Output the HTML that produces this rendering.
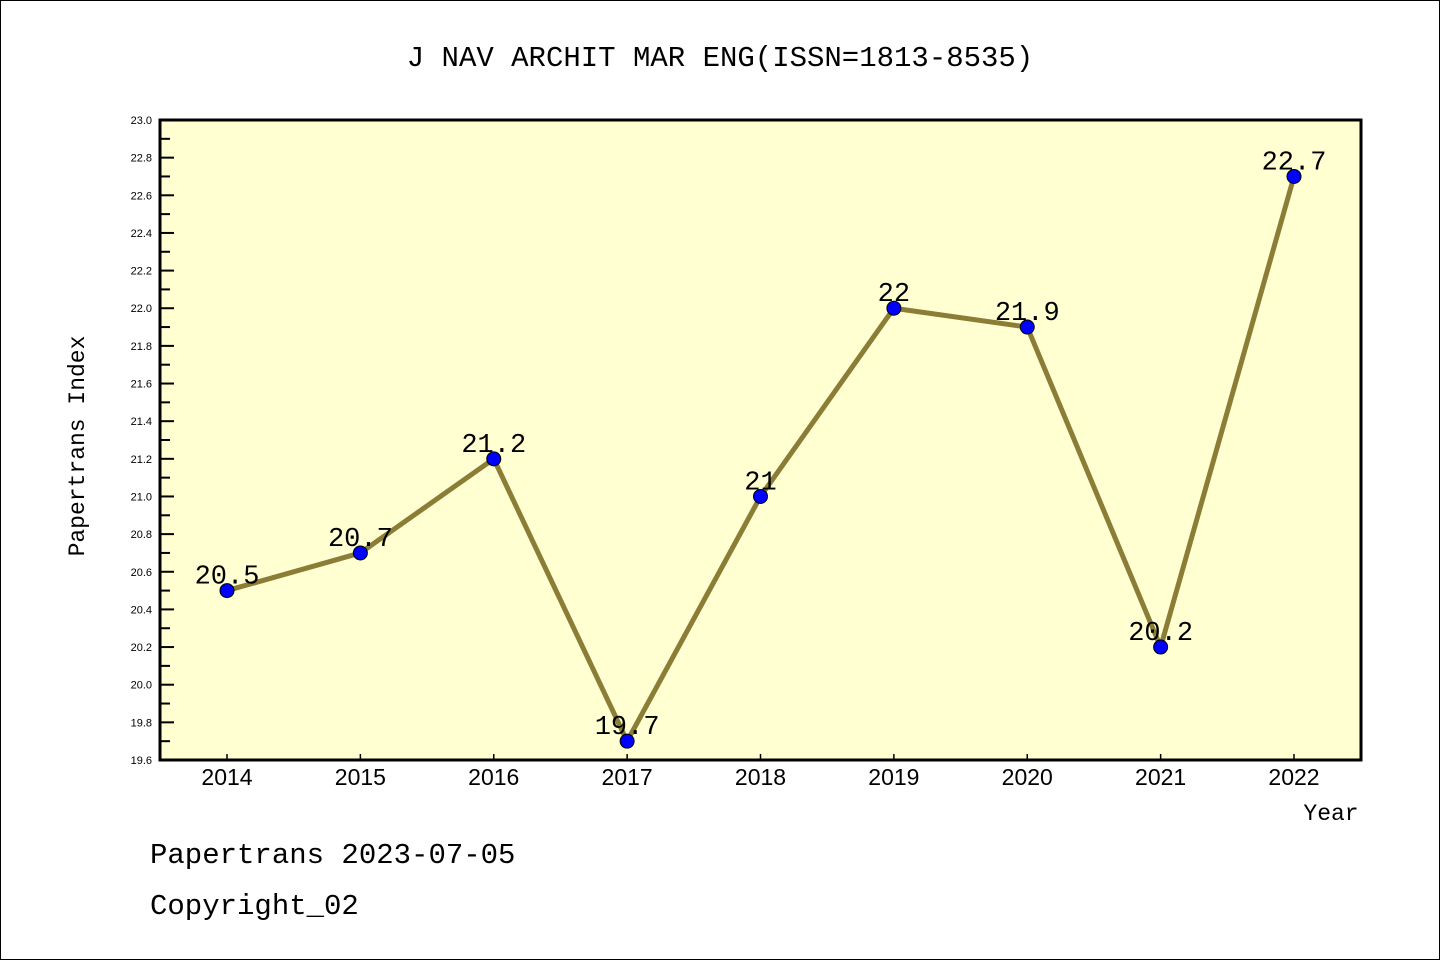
<!DOCTYPE html>
<html><head><meta charset="utf-8"><style>
body{margin:0;background:#fff;}
svg{display:block;font-family:"WenQuanYi Zen Hei","Liberation Mono",monospace;}
</style></head><body>
<svg id="c" width="1440" height="960" xmlns="http://www.w3.org/2000/svg">
<rect x="0.5" y="0.5" width="1439" height="959" fill="#fff" stroke="#000"/>
<text x="720" y="66" text-anchor="middle" font-size="29">J NAV ARCHIT MAR ENG(ISSN=1813-8535)</text>
<rect x="160" y="120" width="1201" height="640" fill="#ffffd2"/>
<g id="g"></g>
<rect x="160" y="120" width="1201" height="640" fill="none" stroke="#000" stroke-width="3"/>
<text transform="translate(84,446) rotate(-90)" text-anchor="middle" font-size="23">Papertrans Index</text>
<text x="1331" y="820" text-anchor="middle" font-size="23">Year</text>
<text x="150" y="863" font-size="29">Papertrans 2023-07-05</text>
<text x="150" y="914" font-size="29">Copyright_02</text>
</svg>
<script>
const years=[2014,2015,2016,2017,2018,2019,2020,2021,2022];
const values=[20.5,20.7,21.2,19.7,21,22,21.9,20.2,22.7];
const valueLabels=["20.5","20.7","21.2","19.7","21","22","21.9","20.2","22.7"];
const yTicks=[19.6,19.8,20.0,20.2,20.4,20.6,20.8,21.0,21.2,21.4,21.6,21.8,22.0,22.2,22.4,22.6,22.8,23.0];
const yMin=19.6,yMax=23.0;
const NS="http://www.w3.org/2000/svg";
const g=document.getElementById('g');
const X=i=>227+i*(1294-227)/(years.length-1);
const Y=v=>760-(v-yMin)/(yMax-yMin)*640;
function el(t,a){const e=document.createElementNS(NS,t);for(const k in a)e.setAttribute(k,a[k]);g.appendChild(e);return e;}
yTicks.forEach((v,i)=>{
  const y=Y(v);
  const t=el('line',{x1:160,x2:174,y1:y,y2:y,stroke:'#000','stroke-width':2});
  
  
  const l=el('text',{x:152,y:y+4,'text-anchor':'end','font-size':11,'font-family':'Liberation Sans, sans-serif'});
  l.textContent=v.toFixed(1);
  
  
  if(i<yTicks.length-1){const m=Y(v+0.1);
    const mt=el('line',{x1:160,x2:170,y1:m,y2:m,stroke:'#000','stroke-width':2});
    
    }
});
years.forEach((yr,i)=>{
  const x=X(i);
  const t=el('line',{x1:x,x2:x,y1:760,y2:754,stroke:'#000','stroke-width':1.5});
  
  
  const l=el('text',{x:x,y:785,'text-anchor':'middle','font-size':23,'font-family':'Liberation Sans, sans-serif'});
  l.textContent=yr;
  
  
});
const line=el('polyline',{points:values.map((v,i)=>X(i)+','+Y(v)).join(' '),fill:'none',stroke:'#8b7d35','stroke-width':5,'stroke-linejoin':'round'});


values.forEach((v,i)=>{
  const c=el('circle',{cx:X(i),cy:Y(v),r:7,fill:'#0000ff',stroke:'#000','stroke-width':1});
  
  
  const l=el('text',{x:X(i),y:Y(v)-7,'text-anchor':'middle','font-size':27});
  l.textContent=valueLabels[i];
  
  
});
</script>
</body></html>
